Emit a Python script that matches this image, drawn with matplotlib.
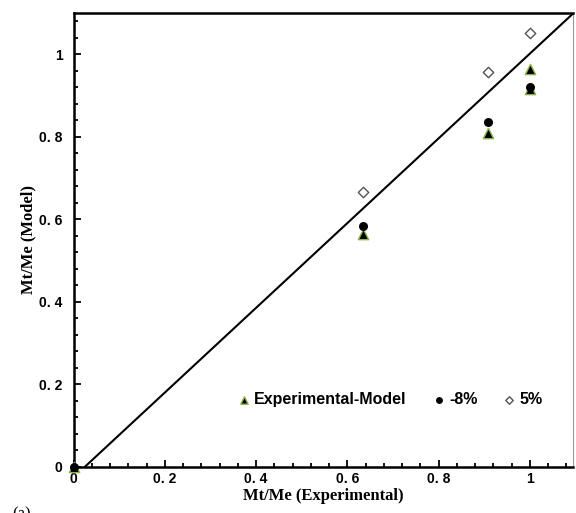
import matplotlib
matplotlib.use("Agg")
import matplotlib.pyplot as plt
import numpy as np
from matplotlib.ticker import MultipleLocator

# values
exp_x = [0.0, 0.635, 0.908, 1.0, 1.0]
model_y = [0.0, 0.565, 0.808, 0.964, 0.915]

minus8_x = [0.0, 0.635, 0.908, 1.0]
minus8_y = [0.0, 0.583, 0.835, 0.920]

plus5_x = [0.635, 0.908, 1.0]
plus5_y = [0.667, 0.956, 1.051]

# reference line
line_slope = 1.026
line_icept = -0.025

ticks = [0, 0.2, 0.4, 0.6, 0.8, 1.0]
tick_labels = ["0", "0. 2", "0. 4", "0. 6", "0. 8", "1"]

fig = plt.figure(figsize=(5.76, 5.13), dpi=100)
ax = fig.add_axes([0.128, 0.09, 0.867, 0.885])

lx = np.array([-line_icept / line_slope, 1.1])
ax.plot(lx, line_slope * lx + line_icept, color="black", lw=1.5, zorder=2)

ax.scatter(exp_x, model_y, marker="^", s=55, facecolor="black",
           edgecolor="#8db34a", linewidth=1.0, zorder=3, clip_on=False,
           label="Experimental-Model")
ax.scatter(minus8_x, minus8_y, marker="o", s=30, facecolor="black",
           edgecolor="black", zorder=4, clip_on=False, label="-8%")
ax.scatter(plus5_x, plus5_y, marker="D", s=28, facecolor="white",
           edgecolor="#555555", linewidth=1.0, zorder=4, label="5%")

ax.set_xlim(0, 1.095)
ax.set_ylim(0, 1.1)
ax.xaxis.set_minor_locator(MultipleLocator(0.04))
ax.yaxis.set_minor_locator(MultipleLocator(0.04))
ax.tick_params(which="both", direction="in", top=False, right=False,
               width=1.3, labelsize=10)
ax.tick_params(which="major", length=5)
ax.tick_params(which="minor", length=3)
ax.tick_params(axis="y", pad=8)

ax.set_xticks(ticks)
ax.set_xticklabels(tick_labels, fontweight="bold", family="Liberation Sans")
ax.set_yticks(ticks)
ax.set_yticklabels(tick_labels, fontweight="bold", family="Liberation Sans")

for s in ["left", "bottom", "top"]:
    ax.spines[s].set_linewidth(1.8)
ax.spines["right"].set_color("#999999")
ax.spines["right"].set_linewidth(0.8)

ax.set_xlabel("Mt/Me (Experimental)", family="Liberation Serif",
              fontweight="bold", fontsize=12, labelpad=2)
ax.set_ylabel("Mt/Me (Model)", family="Liberation Serif",
              fontweight="bold", fontsize=12, labelpad=2)

ax.legend(loc="center left", bbox_to_anchor=(0.328, 0.148), ncol=3,
          frameon=False, borderpad=0, borderaxespad=0, markerscale=0.72,
          handlelength=0.8, handletextpad=0.25, columnspacing=1.6,
          prop={"family": "Liberation Sans", "weight": "bold", "size": 11.5})

fig.text(0.022, 0.012, "(a)", family="Liberation Serif", fontsize=12,
         va="top")

fig.savefig("out.png", dpi=100)
